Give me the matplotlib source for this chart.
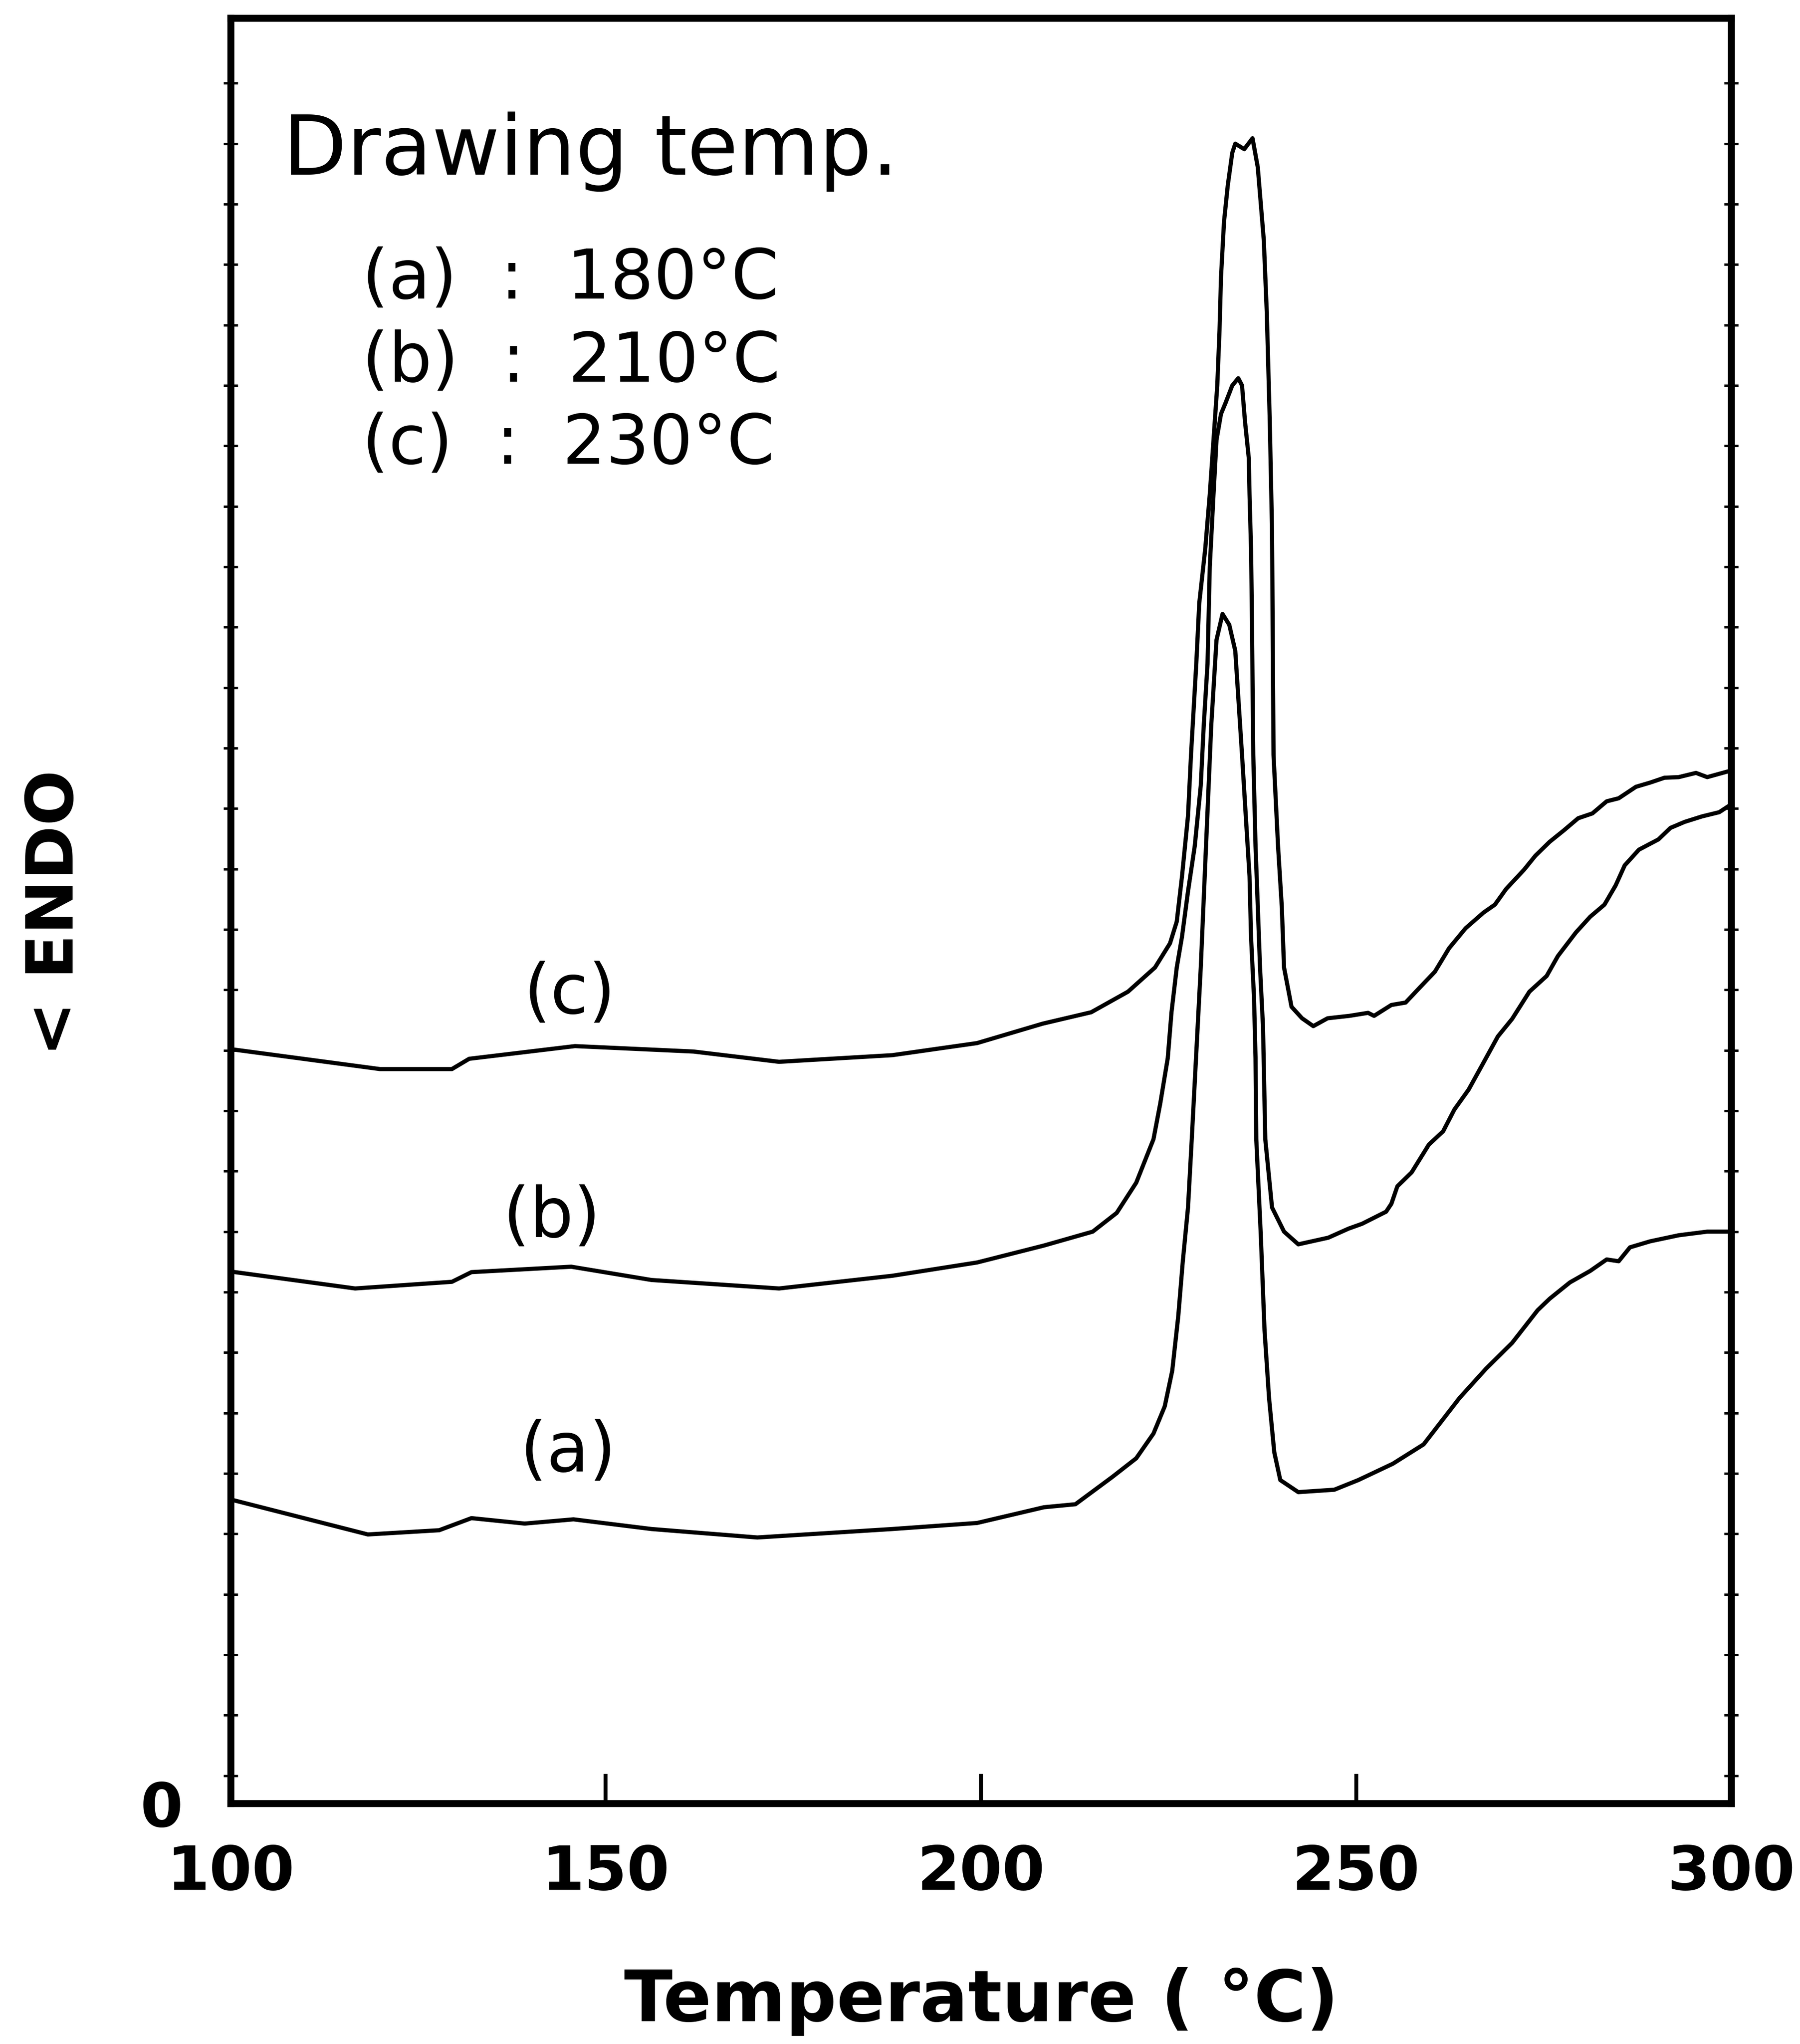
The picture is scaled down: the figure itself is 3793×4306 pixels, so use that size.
import matplotlib
matplotlib.use("Agg")
import matplotlib.pyplot as plt
import numpy as np

# DSC traces (temperature in C, heat flow in arbitrary units)
temp_a = [100.6, 118.3, 127.8, 132.1, 139.2, 145.7, 156.1, 170.2, 188.2, 199.5, 208.4, 212.6,
          217.5, 220.7, 223.0, 224.5, 225.5, 226.3, 226.9, 227.6, 228.1, 229.3, 230.0, 230.7,
          231.2, 231.4, 232.2, 233.1, 233.9, 234.8, 235.3, 235.8, 236.0, 236.4, 236.6, 236.7,
          237.3, 237.8, 238.4, 239.1, 239.9, 242.3, 247.1, 250.3, 254.9, 259.0, 263.8, 267.3,
          270.8, 274.2, 275.8, 278.5, 281.2, 283.4, 285.0, 286.5, 289.2, 293.0, 296.8, 300.0]
heat_a = [5.01, 4.45, 4.52, 4.72, 4.63, 4.70, 4.54, 4.40, 4.54, 4.64, 4.90, 4.95,
          5.40, 5.71, 6.12, 6.57, 7.16, 8.06, 8.96, 9.86, 10.99, 13.83, 15.84, 17.84,
          18.85, 19.25, 19.68, 19.50, 19.07, 17.35, 16.34, 15.34, 14.34, 13.33, 12.33, 10.99,
          9.41, 7.83, 6.71, 5.81, 5.35, 5.15, 5.19, 5.35, 5.62, 5.94, 6.71, 7.19,
          7.62, 8.16, 8.35, 8.62, 8.81, 9.00, 8.97, 9.20, 9.30, 9.40, 9.46, 9.46]

temp_b = [100.6, 116.6, 129.5, 132.1, 145.4, 156.1, 173.1, 188.2, 199.5, 208.4, 214.9, 218.1,
          220.7, 223.0, 223.9, 224.9, 225.4, 226.1, 226.8, 227.6, 228.5, 229.3, 229.7, 230.2,
          230.5, 231.0, 231.4, 232.0, 232.6, 233.5, 234.3, 234.8, 235.2, 235.7, 235.8, 236.0,
          236.1, 236.3, 236.6, 236.9, 237.2, 237.6, 237.9, 238.8, 240.4, 242.3, 246.3, 249.0,
          250.8, 254.0, 254.7, 255.5, 257.4, 259.7, 261.6, 263.1, 265.0, 267.0, 268.9, 270.8,
          273.1, 275.4, 276.9, 279.3, 281.2, 283.1, 284.6, 285.8, 287.7, 290.3, 291.9, 293.8,
          296.1, 298.4, 300.0]
heat_b = [8.79, 8.52, 8.63, 8.79, 8.88, 8.66, 8.52, 8.73, 8.95, 9.23, 9.46, 9.77,
          10.27, 10.99, 11.58, 12.33, 13.09, 13.83, 14.34, 15.09, 15.84, 16.84, 17.84, 18.85,
          20.46, 21.66, 22.56, 22.99, 23.17, 23.46, 23.58, 23.46, 22.86, 22.26, 21.66, 20.76,
          19.86, 17.35, 15.84, 14.84, 13.83, 12.84, 10.99, 9.86, 9.46, 9.25, 9.36, 9.51,
          9.59, 9.79, 9.92, 10.21, 10.44, 10.90, 11.12, 11.48, 11.81, 12.26, 12.69, 12.98,
          13.43, 13.69, 14.02, 14.41, 14.67, 14.87, 15.19, 15.52, 15.78, 15.95, 16.14, 16.24,
          16.33, 16.40, 16.53]

temp_c = [100.6, 119.9, 129.5, 131.8, 145.9, 161.7, 173.1, 188.2, 199.5, 208.2, 214.7, 219.6,
          223.2, 225.2, 226.1, 226.8, 227.6, 228.0, 228.7, 229.1, 229.9, 230.5, 231.0, 231.5,
          231.8, 232.0, 232.4, 232.9, 233.5, 233.9, 235.1, 236.2, 236.9, 237.7, 238.1, 238.5,
          238.8, 239.0, 239.6, 240.1, 240.4, 241.4, 242.8, 244.3, 246.2, 249.1, 251.6, 252.4,
          254.7, 256.6, 258.5, 260.5, 262.4, 264.6, 267.0, 268.5, 270.0, 272.4, 273.9, 275.8,
          277.7, 279.6, 281.5, 283.4, 285.0, 287.3, 289.2, 291.1, 293.0, 295.3, 296.8, 300.0]
heat_c = [12.47, 12.15, 12.15, 12.32, 12.53, 12.44, 12.27, 12.38, 12.58, 12.90, 13.09, 13.43,
          13.83, 14.23, 14.59, 15.34, 16.34, 17.35, 18.85, 19.86, 20.76, 21.66, 22.56, 23.46,
          24.37, 25.26, 26.17, 26.77, 27.31, 27.46, 27.37, 27.55, 27.07, 25.87, 24.67, 22.86,
          21.06, 17.35, 15.84, 14.84, 13.83, 13.18, 12.99, 12.86, 12.99, 13.03, 13.08, 13.03,
          13.21, 13.25, 13.50, 13.76, 14.15, 14.48, 14.74, 14.87, 15.13, 15.45, 15.68, 15.91,
          16.10, 16.30, 16.38, 16.58, 16.63, 16.82, 16.89, 16.97, 16.98, 17.05, 16.98, 17.09]

curve_names = ["(a)", "(b)", "(c)"]
curve_label_x = [145.0, 142.8, 145.2]
curve_label_y = [5.81, 9.69, 13.39]
legend_lines = ["(a)  :  180°C", "(b)  :  210°C", "(c)  :  230°C"]
x_ticks = [100, 150, 200, 250, 300]

plt.rcParams["font.family"] = "DejaVu Sans"

fig = plt.figure(figsize=(3793 / 300, 4306 / 300), dpi=300)
ax = fig.add_axes([0.1281, 0.1177, 0.8337, 0.8735])

for t, h in [(temp_a, heat_a), (temp_b, heat_b), (temp_c, heat_c)]:
    ax.plot(t, h, color="black", linewidth=2.1)

ax.set_xlim(100, 300)
ax.set_ylim(0, 29.54)

for sp in ax.spines.values():
    sp.set_linewidth(3.5)

ax.set_xticks(x_ticks)
ax.set_xticklabels([str(v) for v in x_ticks], fontsize=31, fontweight="bold")
ax.tick_params(axis="x", direction="in", length=15, width=2.0, pad=20)

ax.set_yticks([0])
ax.set_yticklabels(["0"], fontsize=31, fontweight="bold")
ax.tick_params(axis="y", which="major", length=0, pad=24)
ax.set_yticks(np.arange(0.46, 29.0, 1.0), minor=True)
ax.tick_params(axis="y", which="minor", direction="inout", left=True, right=True,
               length=7, width=1.2)

for name, lx, ly in zip(curve_names, curve_label_x, curve_label_y):
    ax.text(lx, ly, name, fontsize=35, ha="center", va="center")

ax.text(0.0348, 0.9123, "Drawing temp.", transform=ax.transAxes, fontsize=42,
        va="baseline", ha="left")
for i, line in enumerate(legend_lines):
    ax.text(0.0876, [0.8429, 0.7963, 0.7503][i], line, transform=ax.transAxes,
            fontsize=34.5, va="baseline", ha="left")

fig.text(0.5453, 0.0111, "Temperature ( °C)", fontsize=36, fontweight="bold",
         ha="center", va="baseline")
fig.text(0.0308, 0.5534, "< ENDO", fontsize=33, fontweight="bold", rotation=90,
         ha="center", va="center")

fig.savefig("out.png", dpi=300, facecolor="white")
